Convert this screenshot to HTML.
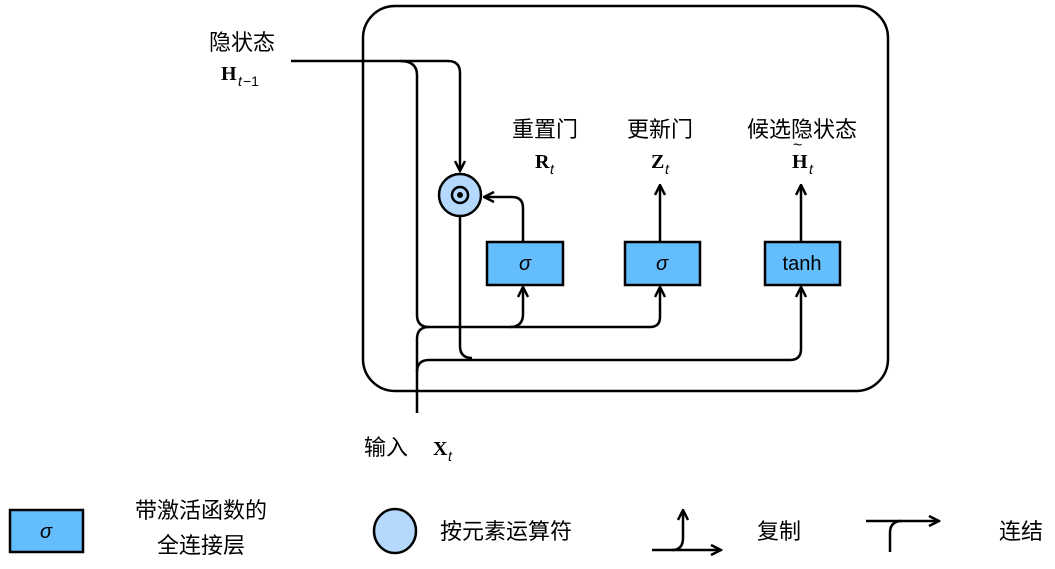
<!DOCTYPE html>
<html><head><meta charset="utf-8"><style>
body{margin:0;background:#fff}
svg text{font-family:"Liberation Sans","Noto Sans CJK SC",sans-serif}
.m{font-family:"Liberation Serif","Noto Serif CJK SC",serif;font-weight:bold}
</style></head><body>
<svg width="1055" height="564" viewBox="0 0 1055 564" xmlns="http://www.w3.org/2000/svg">
<defs><marker id="a" viewBox="0 0 10 10" refX="9" refY="5" markerWidth="5" markerHeight="5" orient="auto"><path d="M1,1 L9,5 L1,9" fill="none" stroke="#000" stroke-width="2"/></marker></defs>
<g fill="none" stroke="#000" stroke-width="2.5">
<rect x="363" y="6" width="525" height="385" rx="32"/>
<path d="M291,61 H448 Q460,61 460,73 V171" marker-end="url(#a)"/>
<path d="M400,61 Q417,61 417,75 V315 Q417,327 429,327 H650 Q660,327 660,317 V287" marker-end="url(#a)"/>
<path d="M510,327 Q523,327 523,314 V287" marker-end="url(#a)"/>
<path d="M417,413 V339 Q417,327 429,327"/>
<path d="M417,372 Q417,360 429,360 H790 Q801,360 801,349 V287" marker-end="url(#a)"/>
<path d="M460,217 V346 Q460,358 472,358"/>
<path d="M523,242 V208 Q523,197 512,197 H484" marker-end="url(#a)"/>
<path d="M660,242 V185" marker-end="url(#a)"/>
<path d="M801,242 V185" marker-end="url(#a)"/>
<path d="M652,550 H721" marker-end="url(#a)"/>
<path d="M672,550 Q683,550 683,538 V510" marker-end="url(#a)"/>
<path d="M866,521 H939" marker-end="url(#a)"/>
<path d="M890,552 V533 Q890,521 902,521"/>
</g>
<g stroke="#000" stroke-width="2.5" fill="#64bdfc">
<rect x="487" y="242" width="76" height="43"/>
<rect x="625" y="242" width="75" height="43"/>
<rect x="765" y="242" width="75" height="43"/>
<rect x="10" y="510" width="73" height="42"/>
</g>
<circle cx="460" cy="195" r="21" fill="#b5d9fc" stroke="#000" stroke-width="2.5"/>
<circle cx="460" cy="195" r="8" fill="none" stroke="#000" stroke-width="2.5"/>
<circle cx="460" cy="195" r="3" fill="#000"/>
<ellipse cx="395" cy="531" rx="21" ry="22" fill="#b5d9fc" stroke="#000" stroke-width="2.5"/>
<g font-size="20" fill="#000">
<text x="525" y="270" text-anchor="middle" font-style="italic">σ</text>
<text x="662" y="270" text-anchor="middle" font-style="italic">σ</text>
<text x="802" y="270" text-anchor="middle">tanh</text>
<text x="46" y="538" text-anchor="middle" font-style="italic">σ</text>
</g>
<g font-size="22" fill="#000">
<text x="242" y="50" text-anchor="middle">隐状态</text>
<text x="545" y="137" text-anchor="middle">重置门</text>
<text x="660" y="137" text-anchor="middle">更新门</text>
<text x="802" y="137" text-anchor="middle">候选隐状态</text>
<text x="364" y="455">输入</text>
<text x="201" y="518" text-anchor="middle">带激活函数的</text>
<text x="201" y="553" text-anchor="middle">全连接层</text>
<text x="440" y="539">按元素运算符</text>
<text x="757" y="539">复制</text>
<text x="999" y="539">连结</text>
</g>
<g font-size="20" fill="#000">
<text class="m" x="221" y="80">H</text><text x="238" y="86" font-size="14" font-style="italic" font-family="Liberation Serif">t</text><text x="243" y="86" font-size="14" font-family="Liberation Serif">−1</text>
<text class="m" x="535" y="168">R</text><text x="550" y="174" font-size="14" font-style="italic" font-family="Liberation Serif">t</text>
<text class="m" x="651" y="168">Z</text><text x="665" y="174" font-size="14" font-style="italic" font-family="Liberation Serif">t</text>
<text class="m" x="792" y="168">H</text><text x="809" y="174" font-size="14" font-style="italic" font-family="Liberation Serif">t</text>
<text x="793" y="150" font-size="16">~</text>
<text class="m" x="433" y="455">X</text><text x="448" y="461" font-size="14" font-style="italic" font-family="Liberation Serif">t</text>
</g>
</svg>
</body></html>
